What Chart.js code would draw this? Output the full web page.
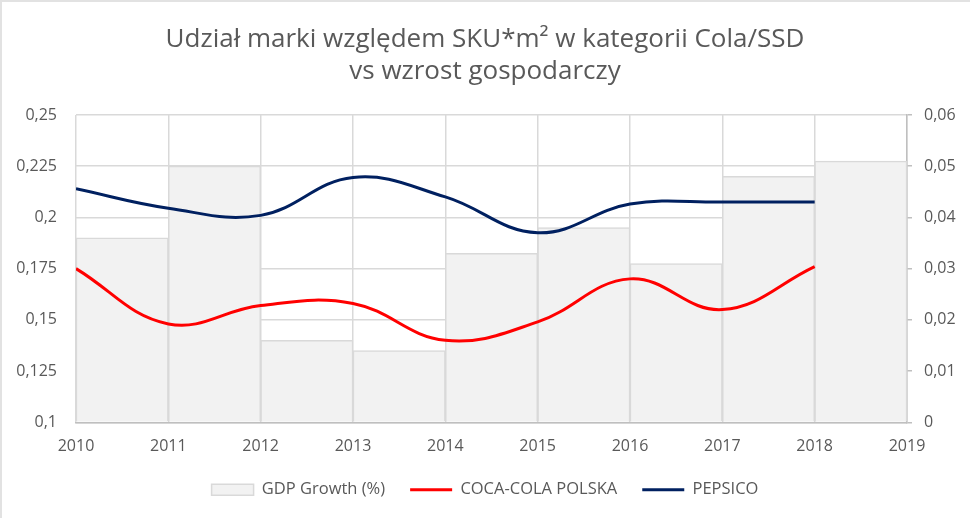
<!DOCTYPE html>
<html>
<head>
<meta charset="utf-8">
<script src="https://cdn.jsdelivr.net/npm/chart.js@4/dist/chart.umd.min.js"></script>
<style>
  html, body { margin: 0; padding: 0; background: #ffffff; }
  #wrap { width: 970px; height: 518px; }
</style>
</head>
<body>
<div id="wrap"><canvas id="c" width="970" height="518"></canvas></div>
<script>
// ---- data ----
const barYears = ['2010', '2011', '2012', '2013', '2014', '2015', '2016', '2017', '2018'];
const lineYears = [2010, 2011, 2012, 2013, 2014, 2015, 2016, 2017, 2018];
const gdpGrowth = [0.036, 0.050, 0.016, 0.014, 0.033, 0.038, 0.031, 0.048, 0.051];
const cocaCola = [0.175, 0.148, 0.157, 0.158, 0.140, 0.149, 0.170, 0.155, 0.176];
const pepsico = [0.214, 0.2045, 0.201, 0.2195, 0.210, 0.1925, 0.2065, 0.2075, 0.2075];
const titleLines = ['Udział marki względem SKU*m² w kategorii Cola/SSD', 'vs wzrost gospodarczy'];

const FONT = "'Open Sans', 'DejaVu Sans', sans-serif";
const TXT = '#595959';

const frame = {
  id: 'frame',
  beforeDraw(chart) {
    const ctx = chart.ctx;
    ctx.save();
    ctx.fillStyle = '#ffffff';
    ctx.fillRect(0, 0, chart.width, chart.height);
    ctx.strokeStyle = '#e2e2e2';
    ctx.lineWidth = 2;
    ctx.beginPath();
    ctx.moveTo(1, chart.height);
    ctx.lineTo(1, 1);
    ctx.lineTo(chart.width, 1);
    ctx.stroke();
    ctx.restore();
  }
};

new Chart(document.getElementById('c'), {
  data: {
    labels: barYears,
    datasets: [
      {
        type: 'bar',
        label: 'GDP Growth (%)',
        data: gdpGrowth,
        xAxisID: 'xBar',
        yAxisID: 'y2',
        backgroundColor: '#f2f2f2',
        borderColor: '#d9d9d9',
        borderWidth: 1.5,
        barPercentage: 1,
        categoryPercentage: 1,
        grouped: false,
        pointStyle: 'rect',
        order: 3
      },
      {
        type: 'line',
        label: 'COCA-COLA POLSKA',
        data: lineYears.map((y, i) => ({ x: y, y: cocaCola[i] })),
        xAxisID: 'x',
        yAxisID: 'y',
        borderColor: '#ff0000',
        backgroundColor: '#ff0000',
        borderWidth: 3,
        pointRadius: 0,
        pointStyle: 'line',
        tension: 0.4,
        fill: false,
        order: 2
      },
      {
        type: 'line',
        label: 'PEPSICO',
        data: lineYears.map((y, i) => ({ x: y, y: pepsico[i] })),
        xAxisID: 'x',
        yAxisID: 'y',
        borderColor: '#002060',
        backgroundColor: '#002060',
        borderWidth: 3,
        pointRadius: 0,
        pointStyle: 'line',
        tension: 0.4,
        fill: false,
        order: 1
      }
    ]
  },
  options: {
    responsive: false,
    animation: false,
    layout: { padding: { left: 0, right: 0, top: 0, bottom: 10 } },
    plugins: {
      title: {
        display: true,
        text: titleLines,
        color: TXT,
        font: { family: FONT, size: 26, weight: 'normal', lineHeight: 1.23 },
        padding: { top: 24, bottom: 27 }
      },
      legend: {
        display: true,
        position: 'bottom',
        labels: {
          usePointStyle: true,
          pointStyleWidth: 42,
          boxHeight: 11,
          padding: 25,
          color: TXT,
          font: { family: FONT, size: 16.5 },
          sort: (a, b) => a.datasetIndex - b.datasetIndex
        }
      },
      tooltip: { enabled: false }
    },
    scales: {
      xBar: {
        type: 'category',
        display: false,
        offset: true,
        grid: { display: false }
      },
      x: {
        type: 'linear',
        position: 'bottom',
        min: 2010,
        max: 2019,
        ticks: {
          stepSize: 1,
          autoSkip: false,
          padding: 0,
          color: TXT,
          font: { family: FONT, size: 16 },
          callback: v => String(v)
        },
        grid: { color: '#d9d9d9', lineWidth: 1.5, drawTicks: true, tickLength: 15, tickColor: 'rgba(0,0,0,0)' },
        border: { display: true, color: '#bfbfbf', width: 1.5 }
      },
      y: {
        position: 'left',
        min: 0.1,
        max: 0.25,
        afterFit: s => { s.width = 76; },
        ticks: {
          stepSize: 0.025,
          padding: 19,
          color: TXT,
          font: { family: FONT, size: 16 },
          callback: v => (Math.round(v * 1000) / 1000).toString().replace('.', ',')
        },
        grid: { color: '#d9d9d9', lineWidth: 1.5, drawTicks: false },
        border: { display: false }
      },
      y2: {
        position: 'right',
        min: 0,
        max: 0.06,
        afterFit: s => { s.width = 63; },
        ticks: {
          stepSize: 0.01,
          padding: 12,
          color: TXT,
          font: { family: FONT, size: 16 },
          callback: v => (Math.round(v * 100) / 100).toString().replace('.', ',')
        },
        grid: { drawOnChartArea: false, drawTicks: true, tickLength: 5, color: '#bfbfbf', lineWidth: 1.5 },
        border: { display: true, color: '#bfbfbf', width: 1.5 }
      }
    }
  },
  plugins: [frame]
});
</script>
</body>
</html>
